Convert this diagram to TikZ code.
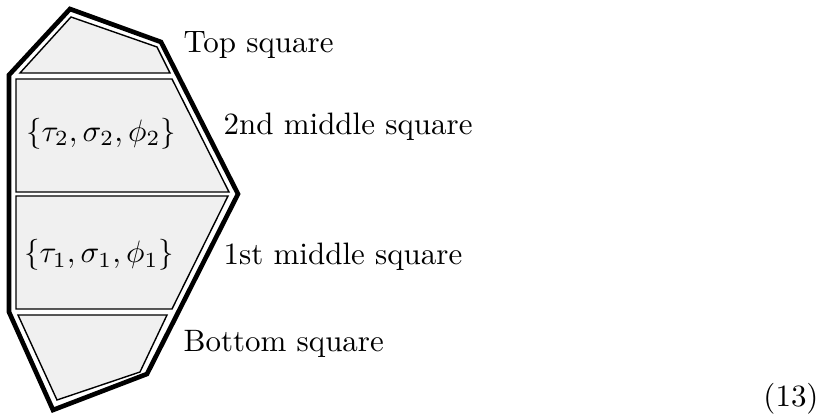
\documentclass[tikz,border=0pt]{standalone}
\begin{document}
\begin{tikzpicture}[x=0.3229pt,y=-0.3229pt,
  region/.style={draw=black, line width=0.45pt, fill=black!6, line join=miter},
  outline/.style={draw=black, line width=1.5pt, line join=miter},
  lbl/.style={anchor=base west, inner sep=0pt, font=\fontsize{10}{12}\selectfont},
  mathlbl/.style={anchor=center, inner sep=0pt, font=\fontsize{10}{12}\selectfont}]
\useasboundingbox (0,0) rectangle (836,420);
% regions
\draw[region] (20,73) -- (71,17) -- (157,47) -- (170,73) -- cycle;
\draw[region] (16,79) -- (172,79) -- (229,192) -- (16,192) -- cycle;
\draw[region] (16,196) -- (228,196) -- (172,309) -- (16,309) -- cycle;
\draw[region] (18,315) -- (167,315) -- (140,372) -- (57,400) -- cycle;
% outline
\draw[outline] (70,9) -- (161,42) -- (238,194) -- (147,374) -- (53,410) -- (9,312) -- (9,75) -- cycle;
% texts
\node[mathlbl] (m2) at (101,133.5) {$\{\tau_2,\sigma_2,\phi_2\}$};
\node[mathlbl] (m1) at (99,255) {$\{\tau_1,\sigma_1,\phi_1\}$};
\node[lbl] (top) at (183,53) {Top square};
\node[lbl] (mid2) at (223,135) {2nd middle square};
\node[lbl] (mid1) at (223,265) {1st middle square};
\node[lbl] (bot) at (183,352) {Bottom square};
\node[mathlbl] (eq) at (791,398.5) {(13)};
\end{tikzpicture}
\end{document}
